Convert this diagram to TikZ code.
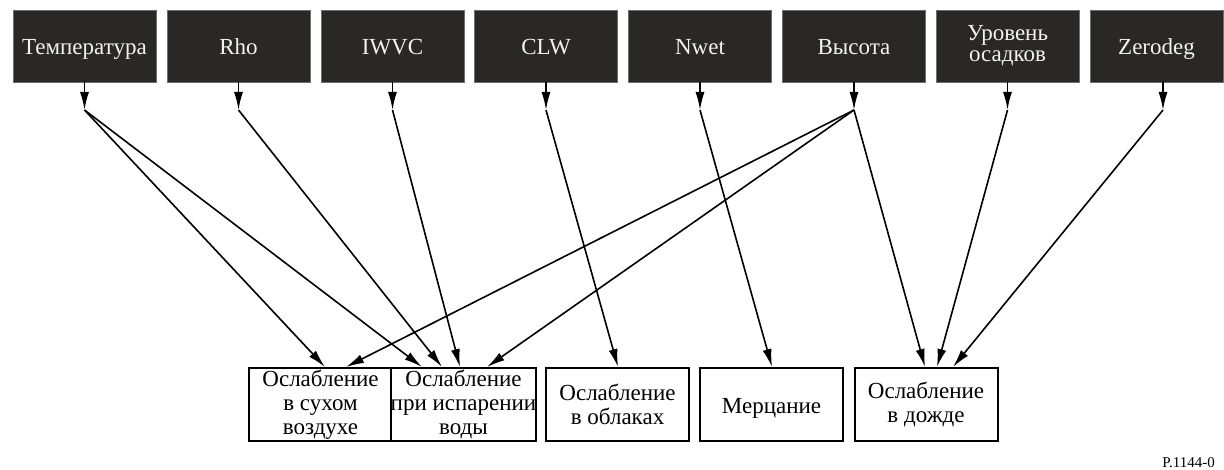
\documentclass[tikz,border=0pt]{standalone}
\usepackage{fontspec}
\setmainfont{Liberation Serif}
\usetikzlibrary{arrows.meta,calc}
\definecolor{topfill}{RGB}{42,40,39}
\definecolor{topedge}{RGB}{110,110,110}
\definecolor{toptext}{RGB}{242,242,242}
\begin{document}
\begin{tikzpicture}[x=0.5pt,y=-0.5pt,
  topbox/.style={draw=topedge,line width=0.4pt,fill=topfill,text=toptext,
    minimum width=71.5pt,minimum height=36pt,inner sep=0pt,align=center,
    font=\fontsize{11.5}{10.5}\selectfont},
  oneline/.style={text height=11pt,text depth=2pt},
  botbox/.style={draw=black,line width=1pt,fill=white,
    minimum width=71.5pt,minimum height=36.5pt,inner sep=0pt,align=center,
    font=\fontsize{11.5}{12}\selectfont},
  conn/.style={line width=0.8pt,-{Latex[length=9pt,width=4.5pt]}}]
\useasboundingbox (0,0) rectangle (1224,470);
\fill[white] (0,0) rectangle (1224,470);
% top boxes
\node[topbox,oneline] (t1) at (84.5,46) {Температура};
\node[topbox,oneline] (t2) at (238.5,46) {Rho};
\node[topbox,oneline] (t3) at (392.5,46) {IWVC};
\node[topbox,oneline] (t4) at (546,46) {CLW};
\node[topbox,oneline] (t5) at (700,46) {Nwet};
\node[topbox,oneline] (t6) at (854,46) {Высота};
\node[topbox] (t7) at (1007.5,46) {Уровень\\осадков};
\node[topbox,oneline,minimum width=66.5pt] (t8) at (1156.5,46) {Zerodeg};
% junctions
\coordinate (j1) at (84.5,110);
\coordinate (j2) at (238.5,110);
\coordinate (j3) at (392.5,110);
\coordinate (j4) at (546,110);
\coordinate (j5) at (700,110);
\coordinate (j6) at (854,110);
\coordinate (j7) at (1007.5,110);
\coordinate (j8) at (1163,110);
\coordinate (s8) at ($(t8.south)+(6.5,0)$);
% bottom boxes
\node[botbox] (b1) at (320.5,404.5) {Ослабление\\в сухом\\воздухе};
\node[botbox] (b2) at (463.5,404.5) {Ослабление\\при испарении\\воды};
\node[botbox] (b3) at (617.5,404.5) {Ослабление\\в облаках};
\node[botbox,text height=9.5pt,text depth=0.5pt] (b4) at (771.5,404.5) {Мерцание};
\node[botbox] (b5) at (926,404.5) {Ослабление\\в дожде};
% end points on the bottom boxes
\coordinate (e1a) at ($(b1.north)+(4.5,0)$);
\coordinate (e1b) at ($(b1.north)+(25.5,0)$);
\coordinate (e2a) at ($(b2.north)+(-41.5,0)$);
\coordinate (e2b) at ($(b2.north)+(-21.5,0)$);
\coordinate (e2c) at ($(b2.north)+(-3.5,0)$);
\coordinate (e2d) at ($(b2.north)+(23.5,0)$);
\coordinate (e3) at ($(b3.north)+(0.5,0)$);
\coordinate (e4) at ($(b4.north)+(0.5,0)$);
\coordinate (e5a) at ($(b5.north)+(-1,0)$);
\coordinate (e5b) at ($(b5.north)+(11,0)$);
\coordinate (e5c) at ($(b5.north)+(27,0)$);
% short arrows below the top boxes
\draw[conn] (t1.south) -- (j1);
\draw[conn] (t2.south) -- (j2);
\draw[conn] (t3.south) -- (j3);
\draw[conn] (t4.south) -- (j4);
\draw[conn] (t5.south) -- (j5);
\draw[conn] (t6.south) -- (j6);
\draw[conn] (t7.south) -- (j7);
\draw[conn] (s8) -- (j8);
% long arrows
\draw[conn] (j1) -- (e1a);
\draw[conn] (j1) -- (e2a);
\draw[conn] (j2) -- (e2b);
\draw[conn] (j3) -- (e2c);
\draw[conn] (j4) -- (e3);
\draw[conn] (j5) -- (e4);
\draw[conn] (j6) -- (e1b);
\draw[conn] (j6) -- (e2d);
\draw[conn] (j6) -- (e5a);
\draw[conn] (j7) -- (e5b);
\draw[conn] (j8) -- (e5c);
% figure reference
\node[anchor=west,inner sep=0pt,font=\fontsize{7.5}{8}\selectfont] (ref) at (1162,463) {P.1144-0};
\end{tikzpicture}
\end{document}
